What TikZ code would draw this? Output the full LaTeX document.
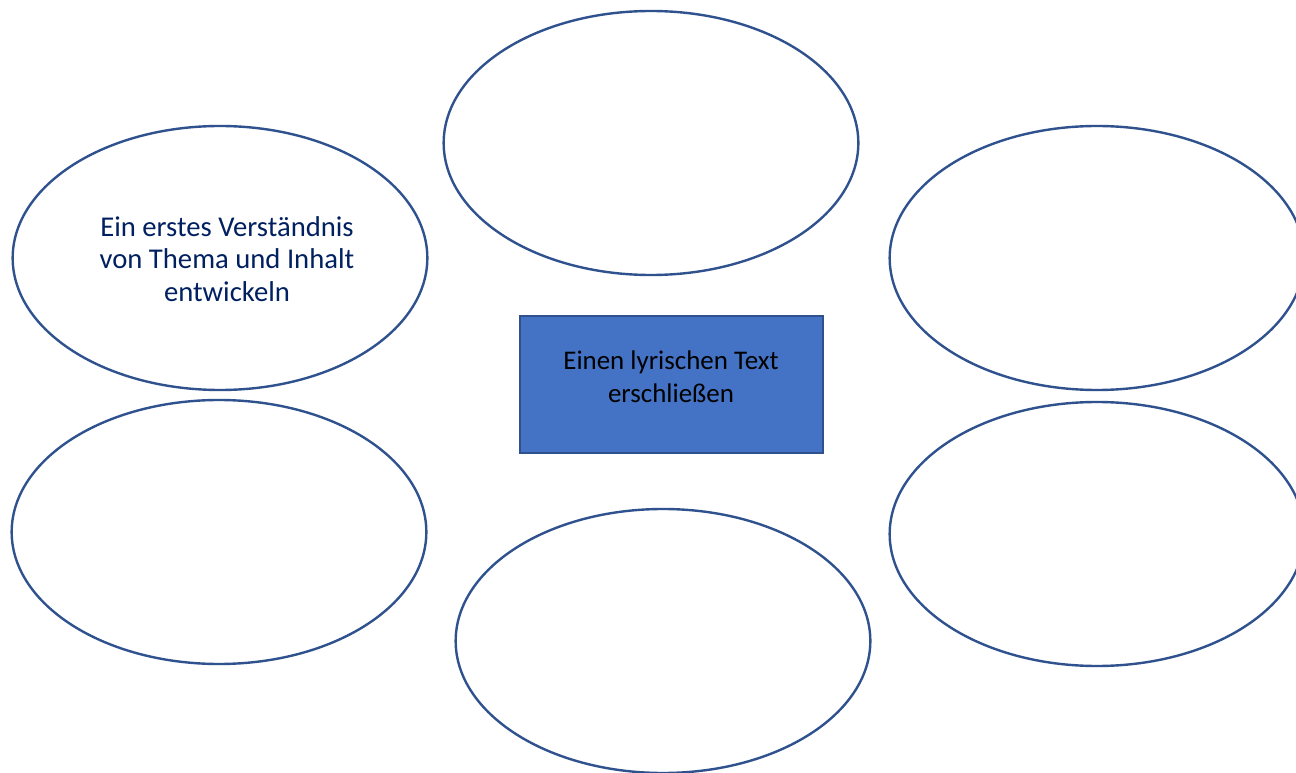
\documentclass[tikz,border=0pt]{standalone}
\usepackage{fontspec}
\setmainfont{Carlito}
\usetikzlibrary{shapes.geometric}
\definecolor{rimblue}{RGB}{47,82,143}
\definecolor{boxblue}{RGB}{68,114,196}
\definecolor{navytext}{RGB}{0,32,96}

\begin{document}
\begin{tikzpicture}[x=0.75pt,y=-0.75pt,
    bubble/.style={ellipse, draw=rimblue, line width=1.8pt, fill=white,
        minimum width=311pt, minimum height=198pt, inner sep=0pt},
    bubbletext/.style={align=center, text=navytext, font=\fontsize{21.5}{24.5}\selectfont},
    topicbox/.style={rectangle, draw=rimblue, line width=1.1pt, fill=boxblue,
        minimum width=227pt, minimum height=103pt}]
    \useasboundingbox (0,0) rectangle (1296,773);
    \fill[white] (0,0) rectangle (1296,773);
    % the six bubbles round the topic
    \node[bubble] (upper) at (651,143) {};
    \node[bubble] (leftup) at (220,258) {};
    \node[bubble] (rightup) at (1097,258) {};
    \node[bubble] (leftdown) at (219,532) {};
    \node[bubble] (rightdown) at (1097,534) {};
    \node[bubble] (lower) at (663,641) {};
    \node[bubbletext] (leftuptext) at (227,259) {Ein erstes Verständnis\\von Thema und Inhalt\\entwickeln};
    % topic in the middle
    \node[topicbox] (topic) at (671.5,384.5) {};
    \node[align=center, font=\fontsize{20.2}{24.5}\selectfont] (topictext) at (671,377) {Einen lyrischen Text\\erschließen};
\end{tikzpicture}
\end{document}
